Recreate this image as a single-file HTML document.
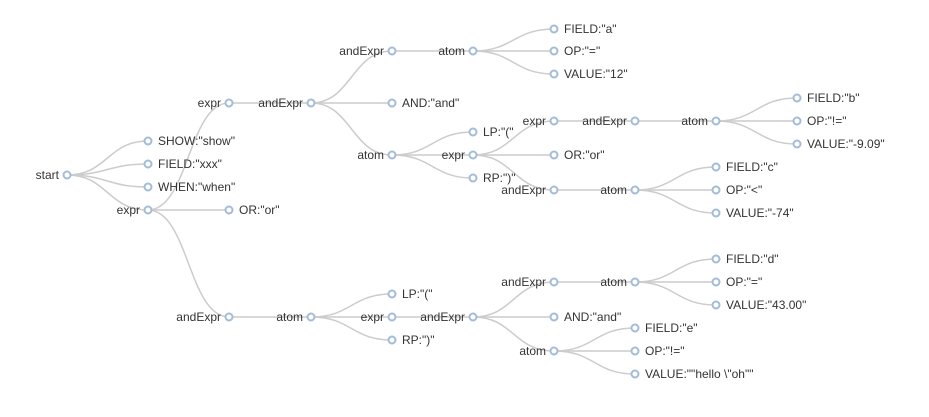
<!DOCTYPE html>
<html><head><meta charset="utf-8"><style>
html,body{margin:0;padding:0;background:#fff;}
svg{display:block;}
path{fill:none;stroke:#ccc;stroke-width:1.5px;}
circle{fill:#fff;stroke:#a3bcd9;stroke-width:2px;}
text{font-family:"Liberation Sans",sans-serif;font-size:12px;fill:#333;}
.i{text-anchor:end;}
</style></head><body>
<svg width="929" height="417" viewBox="0 0 929 417">
<g>
<path d="M67,175C107.5,175 107.5,141 148,141"/>
<path d="M67,175C107.5,175 107.5,164 148,164"/>
<path d="M67,175C107.5,175 107.5,187 148,187"/>
<path d="M67,175C107.5,175 107.5,210 148,210"/>
<path d="M148,210C188.5,210 188.5,103 229,103"/>
<path d="M148,210C188.5,210 188.5,210 229,210"/>
<path d="M148,210C188.5,210 188.5,317 229,317"/>
<path d="M229,103C270,103 270,103 311,103"/>
<path d="M311,103C351.5,103 351.5,51 392,51"/>
<path d="M311,103C351.5,103 351.5,103 392,103"/>
<path d="M311,103C351.5,103 351.5,155 392,155"/>
<path d="M392,51C432.5,51 432.5,51 473,51"/>
<path d="M473,51C513.5,51 513.5,29 554,29"/>
<path d="M473,51C513.5,51 513.5,51 554,51"/>
<path d="M473,51C513.5,51 513.5,74 554,74"/>
<path d="M392,155C432.5,155 432.5,132 473,132"/>
<path d="M392,155C432.5,155 432.5,155 473,155"/>
<path d="M392,155C432.5,155 432.5,178 473,178"/>
<path d="M473,155C513.5,155 513.5,121 554,121"/>
<path d="M473,155C513.5,155 513.5,155 554,155"/>
<path d="M473,155C513.5,155 513.5,190 554,190"/>
<path d="M554,121C594.5,121 594.5,121 635,121"/>
<path d="M635,121C675.5,121 675.5,121 716,121"/>
<path d="M716,121C756.5,121 756.5,98 797,98"/>
<path d="M716,121C756.5,121 756.5,121 797,121"/>
<path d="M716,121C756.5,121 756.5,144 797,144"/>
<path d="M554,190C594.5,190 594.5,190 635,190"/>
<path d="M635,190C675.5,190 675.5,167 716,167"/>
<path d="M635,190C675.5,190 675.5,190 716,190"/>
<path d="M635,190C675.5,190 675.5,213 716,213"/>
<path d="M229,317C270,317 270,317 311,317"/>
<path d="M311,317C351.5,317 351.5,294 392,294"/>
<path d="M311,317C351.5,317 351.5,317 392,317"/>
<path d="M311,317C351.5,317 351.5,340 392,340"/>
<path d="M392,317C432.5,317 432.5,317 473,317"/>
<path d="M473,317C513.5,317 513.5,282 554,282"/>
<path d="M473,317C513.5,317 513.5,317 554,317"/>
<path d="M473,317C513.5,317 513.5,351 554,351"/>
<path d="M554,282C594.5,282 594.5,282 635,282"/>
<path d="M635,282C675.5,282 675.5,259 716,259"/>
<path d="M635,282C675.5,282 675.5,282 716,282"/>
<path d="M635,282C675.5,282 675.5,305 716,305"/>
<path d="M554,351C594.5,351 594.5,328 635,328"/>
<path d="M554,351C594.5,351 594.5,351 635,351"/>
<path d="M554,351C594.5,351 594.5,374 635,374"/>
</g>
<g>
<circle cx="67" cy="175" r="3.5"/>
<circle cx="148" cy="141" r="3.5"/><circle cx="148" cy="164" r="3.5"/><circle cx="148" cy="187" r="3.5"/><circle cx="148" cy="210" r="3.5"/>
<circle cx="229" cy="103" r="3.5"/><circle cx="229" cy="210" r="3.5"/><circle cx="229" cy="317" r="3.5"/>
<circle cx="311" cy="103" r="3.5"/><circle cx="311" cy="317" r="3.5"/>
<circle cx="392" cy="51" r="3.5"/><circle cx="392" cy="103" r="3.5"/><circle cx="392" cy="155" r="3.5"/>
<circle cx="392" cy="294" r="3.5"/><circle cx="392" cy="317" r="3.5"/><circle cx="392" cy="340" r="3.5"/>
<circle cx="473" cy="51" r="3.5"/><circle cx="473" cy="132" r="3.5"/><circle cx="473" cy="155" r="3.5"/><circle cx="473" cy="178" r="3.5"/><circle cx="473" cy="317" r="3.5"/>
<circle cx="554" cy="29" r="3.5"/><circle cx="554" cy="51" r="3.5"/><circle cx="554" cy="74" r="3.5"/>
<circle cx="554" cy="121" r="3.5"/><circle cx="554" cy="155" r="3.5"/><circle cx="554" cy="190" r="3.5"/>
<circle cx="554" cy="282" r="3.5"/><circle cx="554" cy="317" r="3.5"/><circle cx="554" cy="351" r="3.5"/>
<circle cx="635" cy="121" r="3.5"/><circle cx="635" cy="190" r="3.5"/><circle cx="635" cy="282" r="3.5"/>
<circle cx="635" cy="328" r="3.5"/><circle cx="635" cy="351" r="3.5"/><circle cx="635" cy="374" r="3.5"/>
<circle cx="716" cy="121" r="3.5"/><circle cx="716" cy="167" r="3.5"/><circle cx="716" cy="190" r="3.5"/><circle cx="716" cy="213" r="3.5"/>
<circle cx="716" cy="259" r="3.5"/><circle cx="716" cy="282" r="3.5"/><circle cx="716" cy="305" r="3.5"/>
<circle cx="797" cy="98" r="3.5"/><circle cx="797" cy="121" r="3.5"/><circle cx="797" cy="144" r="3.5"/>
</g>
<g>
<text class="i" x="59" y="179">start</text>
<text class="i" x="140" y="214">expr</text>
<text class="i" x="221" y="107">expr</text>
<text class="i" x="303" y="107">andExpr</text>
<text class="i" x="384" y="55">andExpr</text>
<text class="i" x="465" y="55">atom</text>
<text class="i" x="384" y="159">atom</text>
<text class="i" x="465" y="159">expr</text>
<text class="i" x="546" y="125">expr</text>
<text class="i" x="627" y="125">andExpr</text>
<text class="i" x="708" y="125">atom</text>
<text class="i" x="546" y="194">andExpr</text>
<text class="i" x="627" y="194">atom</text>
<text class="i" x="221" y="321">andExpr</text>
<text class="i" x="303" y="321">atom</text>
<text class="i" x="384" y="321">expr</text>
<text class="i" x="465" y="321">andExpr</text>
<text class="i" x="546" y="286">andExpr</text>
<text class="i" x="627" y="286">atom</text>
<text class="i" x="546" y="355">atom</text>

<text x="158" y="145">SHOW:"show"</text>
<text x="158" y="168">FIELD:"xxx"</text>
<text x="158" y="191">WHEN:"when"</text>
<text x="239" y="214">OR:"or"</text>
<text x="402" y="107">AND:"and"</text>
<text x="564" y="33">FIELD:"a"</text>
<text x="564" y="55">OP:"="</text>
<text x="564" y="78">VALUE:"12"</text>
<text x="483" y="136">LP:"("</text>
<text x="483" y="182">RP:")"</text>
<text x="564" y="159">OR:"or"</text>
<text x="807" y="102">FIELD:"b"</text>
<text x="807" y="125">OP:"!="</text>
<text x="807" y="148">VALUE:"-9.09"</text>
<text x="726" y="171">FIELD:"c"</text>
<text x="726" y="194">OP:"&lt;"</text>
<text x="726" y="217">VALUE:"-74"</text>
<text x="402" y="298">LP:"("</text>
<text x="402" y="344">RP:")"</text>
<text x="564" y="321">AND:"and"</text>
<text x="726" y="263">FIELD:"d"</text>
<text x="726" y="286">OP:"="</text>
<text x="726" y="309">VALUE:"43.00"</text>
<text x="645" y="332">FIELD:"e"</text>
<text x="645" y="355">OP:"!="</text>
<text x="645" y="378">VALUE:""hello \"oh""</text>
</g>
</svg>
</body></html>
